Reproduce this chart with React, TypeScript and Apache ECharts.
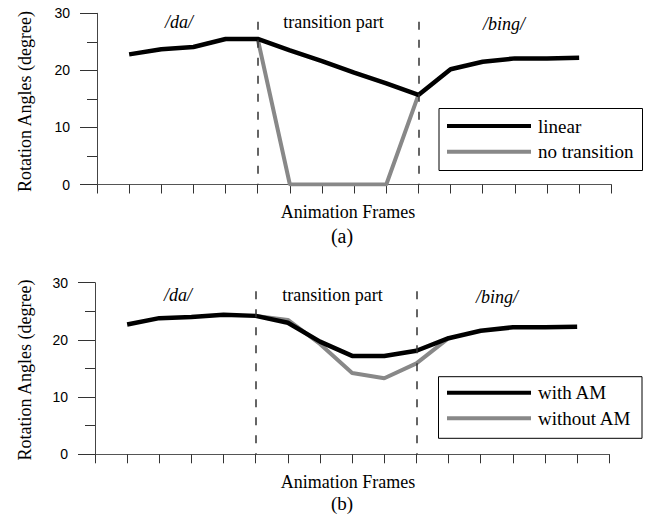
import React, { useEffect, useRef } from 'react';
import * as echarts from 'echarts';

// Frame indices on the x axis (0..16 ticks, data on 1..15)
const frameIdx = [1, 2, 3, 4, 5, 6, 7, 8, 9, 10, 11, 12, 13, 14, 15];

// (a) linear vs no transition
const linearA = [22.8, 23.7, 24.1, 25.5, 25.5, 23.5, 21.6, 19.6, 17.7, 15.7, 20.2, 21.5, 22.1, 22.1, 22.2];
const noTransA = [null, null, null, null, 25.5, 0, 0, 0, 0, 15.7, null, null, null, null, null];

// (b) with AM vs without AM
const withAM = [22.7, 23.8, 24.0, 24.4, 24.2, 23.0, 19.7, 17.2, 17.2, 18.1, 20.3, 21.6, 22.2, 22.2, 22.3];
const withoutAM = [null, null, null, null, 24.2, 23.5, 19.3, 14.2, 13.3, 15.9, 20.3, null, null, null, null];

// Segment boundaries (dashed lines)
const boundaries = [5, 10];
const boundaryTop = 28.5;

const yTicks = { min: 0, max: 30, interval: 10 };
const xRange = { min: 0, max: 16, interval: 1 };

const SERIF = '"Liberation Serif", "Times New Roman", serif';
const SANS = '"Liberation Sans", Arial, sans-serif';

const pairs = (ys: (number | null)[]) => frameIdx.map((x, i) => [x, ys[i] === null ? '-' : ys[i]]);

function makeX(gridIndex: number) {
  return {
    type: 'value',
    gridIndex,
    min: xRange.min,
    max: xRange.max,
    interval: xRange.interval,
    axisLine: { show: true, lineStyle: { color: '#555', width: 1 } },
    axisTick: { show: true, length: 9, lineStyle: { color: '#333', width: 1 } },
    axisLabel: { show: false },
    splitLine: { show: false },
  };
}

function makeY(gridIndex: number) {
  return {
    type: 'value',
    gridIndex,
    min: yTicks.min,
    max: yTicks.max,
    interval: yTicks.interval,
    axisLine: { show: true, lineStyle: { color: '#444', width: 1 } },
    axisTick: { show: true, length: 17, lineStyle: { color: '#333', width: 1 } },
    minorTick: { show: true, splitNumber: 2, length: 10, lineStyle: { color: '#333', width: 1 } },
    axisLabel: { show: true, margin: 27, fontFamily: SANS, fontSize: 14, color: '#000' },
    splitLine: { show: false },
    minorSplitLine: { show: false },
  };
}

function markLines() {
  return {
    silent: true,
    symbol: ['none', 'none'],
    label: { show: false },
    lineStyle: { color: '#333', width: 1.5, type: [8, 10] },
    data: boundaries.map((b) => [{ coord: [b, boundaryTop] }, { coord: [b, 0] }]),
  };
}

function lineSeries(name: string, ys: (number | null)[], color: string, width: number, gi: number, withMark: boolean) {
  return {
    name,
    type: 'line',
    xAxisIndex: gi,
    yAxisIndex: gi,
    data: pairs(ys),
    symbol: 'none',
    showSymbol: false,
    connectNulls: false,
    lineStyle: { color, width },
    itemStyle: { color },
    markLine: withMark ? markLines() : undefined,
  };
}

function txt(text: string, x: number, y: number, size: number, italic = false, align = 'center') {
  return {
    type: 'text',
    x,
    y,
    style: {
      text,
      fontFamily: SERIF,
      fontSize: size,
      fontStyle: italic ? 'italic' : 'normal',
      fill: '#000',
      align,
      verticalAlign: 'middle',
    },
  };
}

function legendBox(x: number, y: number, w: number, h: number, items: { label: string; color: string; y: number }[]) {
  const els: any[] = [
    { type: 'rect', shape: { x, y, width: w, height: h }, style: { fill: '#fff', stroke: '#000', lineWidth: 1 } },
  ];
  items.forEach((it) => {
    els.push({ type: 'line', shape: { x1: 447, y1: it.y, x2: 531, y2: it.y }, style: { stroke: it.color, lineWidth: 4 } });
    els.push(txt(it.label, 538, it.y, 19, false, 'left'));
  });
  return els;
}

const option: any = {
  animation: false,
  backgroundColor: '#fff',
  grid: [
    { left: 97, top: 13.3, width: 514.3, height: 171.2 },
    { left: 95, top: 282.7, width: 514.3, height: 171.6 },
  ],
  xAxis: [makeX(0), makeX(1)],
  yAxis: [makeY(0), makeY(1)],
  series: [
    lineSeries('no transition', noTransA, '#888', 4, 0, false),
    lineSeries('linear', linearA, '#000', 4.5, 0, true),
    lineSeries('without AM', withoutAM, '#888', 4, 1, false),
    lineSeries('with AM', withAM, '#000', 4.5, 1, true),
  ],
  graphic: [
    // (a)
    txt('/da/', 179, 22, 18, true),
    txt('transition part', 333.5, 22, 18),
    txt('/bing/', 504, 24, 18, true),
    txt('Animation Frames', 348, 212, 18),
    txt('(a)', 342, 236, 20),
    {
      type: 'text', x: 25, y: 101.5, rotation: Math.PI / 2,
      style: { text: 'Rotation Angles (degree)', fontFamily: SERIF, fontSize: 18, fill: '#000', align: 'center', verticalAlign: 'middle' },
    },
    ...legendBox(439, 108.5, 203.5, 62, [
      { label: 'linear', color: '#000', y: 126 },
      { label: 'no transition', color: '#888', y: 151.7 },
    ]),
    // (b)
    txt('/da/', 178, 295, 18, true),
    txt('transition part', 332.5, 295, 18),
    txt('/bing/', 497, 297, 18, true),
    txt('Animation Frames', 348, 482, 18),
    txt('(b)', 342, 503, 19),
    {
      type: 'text', x: 25, y: 370, rotation: Math.PI / 2,
      style: { text: 'Rotation Angles (degree)', fontFamily: SERIF, fontSize: 18, fill: '#000', align: 'center', verticalAlign: 'middle' },
    },
    ...legendBox(438.5, 376.7, 203.5, 61.6, [
      { label: 'with AM', color: '#000', y: 392.7 },
      { label: 'without AM', color: '#888', y: 418.3 },
    ]),
  ],
};

export default function App() {
  const ref = useRef<HTMLDivElement>(null);
  useEffect(() => {
    if (!ref.current) return;
    const chart = echarts.init(ref.current, null, { renderer: 'svg' });
    chart.setOption(option);
    return () => chart.dispose();
  }, []);
  return <div ref={ref} style={{ position: 'absolute', left: 0, top: 0, width: 645, height: 515 }} />;
}
